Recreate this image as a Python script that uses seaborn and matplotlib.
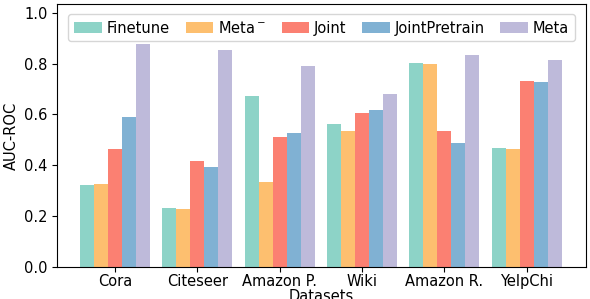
import numpy as np
import pandas as pd
import matplotlib
matplotlib.use("Agg")
import matplotlib.pyplot as plt
import seaborn as sns

datasets = ['Cora', 'Citeseer', 'Amazon P.', 'Wiki', 'Amazon R.', 'YelpChi']
methods = ['Finetune', r'Meta$^-$', 'Joint', 'JointPretrain', 'Meta']

finetune = [0.323, 0.232, 0.673, 0.563, 0.803, 0.468]
meta_minus = [0.327, 0.228, 0.335, 0.535, 0.799, 0.465]
joint = [0.465, 0.417, 0.512, 0.606, 0.535, 0.732]
joint_pretrain = [0.591, 0.394, 0.528, 0.618, 0.488, 0.728]
meta = [0.878, 0.854, 0.791, 0.681, 0.835, 0.815]

colors = ['#8dd3c7', '#fdbf6f', '#fb8072', '#80b1d3', '#bebada']

rows = []
for m, vals in zip(methods, [finetune, meta_minus, joint, joint_pretrain, meta]):
    for d, v in zip(datasets, vals):
        rows.append({'Datasets': d, 'Method': m, 'AUC-ROC': v})
df = pd.DataFrame(rows)

plt.rcParams['font.family'] = ['DejaVu Sans']
fs = 10.5

fig = plt.figure(figsize=(5.9, 2.99), dpi=100)
ax = fig.add_axes([0.097, 0.107, 0.896, 0.880])

sns.barplot(data=df, x='Datasets', y='AUC-ROC', hue='Method', palette=colors,
            width=0.85, saturation=1, ax=ax, errorbar=None)

ax.set_xlim(-0.7, 5.72)
ax.set_ylim(0, 1.035)
ax.set_yticks([0.0, 0.2, 0.4, 0.6, 0.8, 1.0])
ax.set_xlabel('Datasets', fontsize=fs, labelpad=0)
ax.set_ylabel('AUC-ROC', fontsize=fs)
ax.tick_params(axis='both', labelsize=fs)
ax.tick_params(axis='x', pad=1.5)

ax.legend(loc='upper center', ncol=5, fontsize=fs, handlelength=1.9,
          handletextpad=0.3, columnspacing=1.1, borderaxespad=0.4,
          bbox_to_anchor=(0.5, 0.985))

fig.savefig('out.png', dpi=100)
